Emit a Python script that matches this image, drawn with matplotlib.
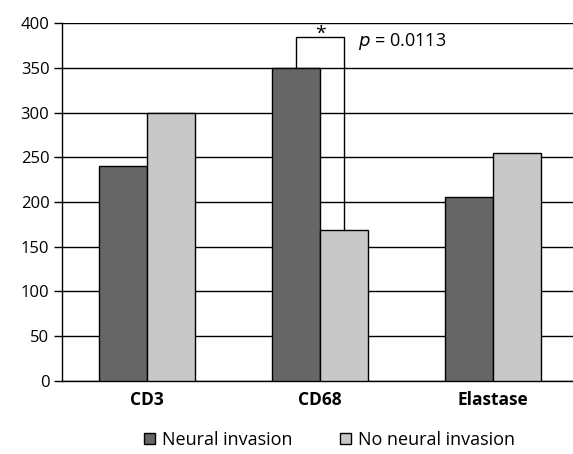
import matplotlib
matplotlib.use("Agg")
import matplotlib.pyplot as plt
import numpy as np

categories = ["CD3", "CD68", "Elastase"]
neural = [240, 350, 206]
no_neural = [300, 169, 255]
series_names = ["Neural invasion", "No neural invasion"]
yticks = [0, 50, 100, 150, 200, 250, 300, 350, 400]
p_label = "0.0113"

plt.rcParams['font.family'] = ['Open Sans', 'DejaVu Sans']

fig = plt.figure(figsize=(5.73, 4.54), dpi=100)
ax = fig.add_axes([0.108, 0.161, 0.892, 0.788])

x = np.arange(len(categories))
w = 0.277
ax.bar(x - w/2, neural, w, color="#666666", edgecolor="black", linewidth=1, zorder=3, label=series_names[0])
ax.bar(x + w/2, no_neural, w, color="#c8c8c8", edgecolor="black", linewidth=1, zorder=3, label=series_names[1])

ax.set_ylim(0, 400)
ax.set_xlim(-0.49, 2.46)
ax.set_yticks(yticks)
ax.yaxis.grid(True, color="black", linewidth=1, zorder=0)
ax.set_xticks(x)
ax.set_xticklabels(categories, fontsize=12.5, fontweight="bold")
ax.tick_params(axis="x", length=0, pad=7)
ax.tick_params(axis="y", length=6, width=1, labelsize=12, pad=3, color="black")
for s in ["top", "right"]:
    ax.spines[s].set_visible(False)
ax.spines["left"].set_linewidth(1)
ax.spines["bottom"].set_linewidth(1)

# significance bracket
top = 384
xl = 1 - w/2
xr = 1 + w/2
ax.plot([xl, xl, xr, xr], [neural[1], top, top, no_neural[1]], color="black", linewidth=1, zorder=4)
ax.text(1, 378, "*", ha="center", va="bottom", fontsize=14)
ax.text(1.22, 379, r"$\it{p}$ = " + p_label, ha="left", va="center", fontsize=13)

leg = fig.legend(loc="lower center", bbox_to_anchor=(0.575, -0.025), ncol=2, frameon=False,
                 fontsize=13, handlelength=0.6, handleheight=0.6, columnspacing=2.6, handletextpad=0.4)

fig.savefig("out.png", dpi=100)
